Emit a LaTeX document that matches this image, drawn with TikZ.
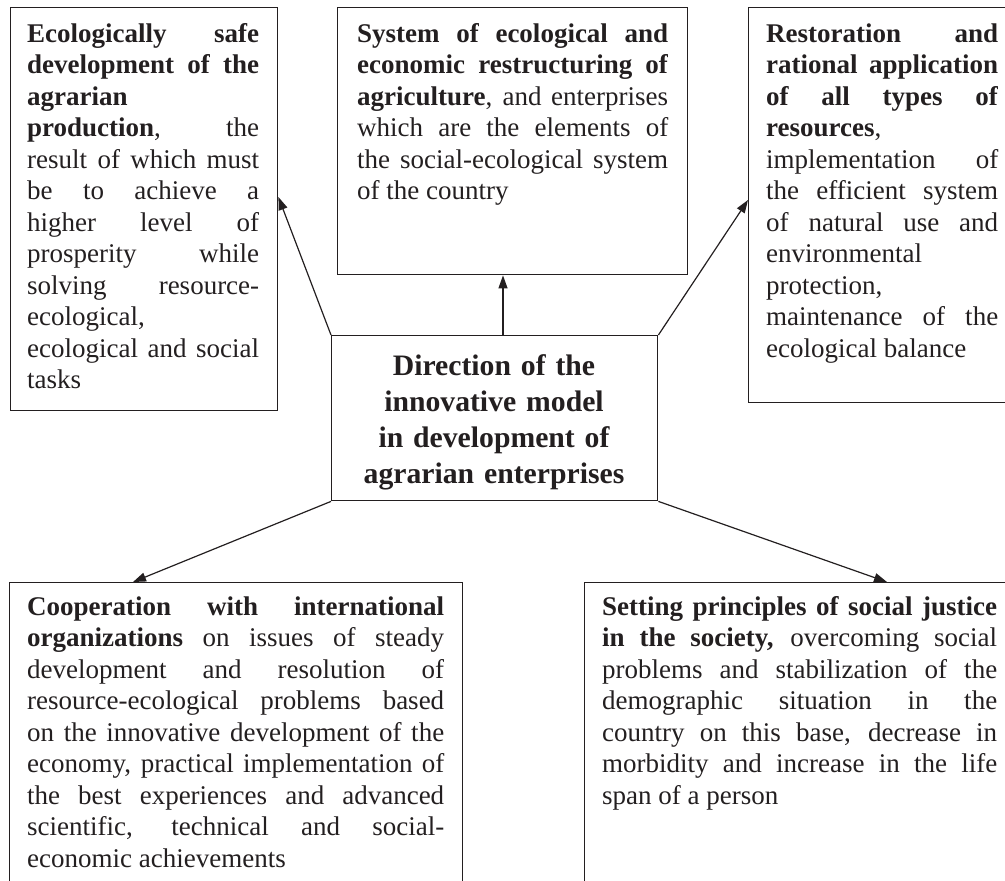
\documentclass[tikz,border=0pt]{standalone}
\usepackage{fontspec}
\setmainfont{Liberation Serif}
\usetikzlibrary{arrows.meta}
\definecolor{ink}{HTML}{231F20}
\newcommand\jbox[2]{\parbox[t]{#1pt}{\tolerance=10000\relax\hbadness=10000\relax\hyphenpenalty=10000\relax #2}}
\tikzset{
  box/.style={draw=ink, line width=1.4pt, rectangle, inner sep=0pt, anchor=north west},
  txt/.style={inner sep=0pt, anchor=base west, text=ink,
    font=\fontsize{27}{31.5}\selectfont},
  ctxt/.style={inner sep=0pt, text width=#1, align=center, anchor=base, text=ink,
    font=\fontsize{29.7}{36}\selectfont\bfseries},
  arr/.style={draw=ink, line width=1.2pt, -{Triangle[length=13pt,width=9pt]}}
}
\begin{document}
\begin{tikzpicture}[x=1pt,y=-1pt]
\useasboundingbox (0,0) rectangle (1005,881);
\clip (0,0) rectangle (1005,881);
% boxes
\node[box, minimum width=267, minimum height=403] (b1) at (10,7) {};
\node[box, minimum width=350, minimum height=267] (b2) at (337,7) {};
\node[box, minimum width=300, minimum height=395] (b3) at (748,7) {};
\node[box, minimum width=326, minimum height=165] (c) at (331,335) {};
\node[box, minimum width=453, minimum height=400] (bl) at (9,582) {};
\node[box, minimum width=500, minimum height=400] (br) at (584,582) {};
% texts
\node[txt] (t1) at (27,42) {\jbox{232}{\textbf{Ecologically safe}\linebreak
\textbf{development of the}\linebreak
\textbf{agrarian}\\
\textbf{production}, the\linebreak
result of which must\linebreak
be to achieve a\linebreak
higher level of\linebreak
prosperity while\linebreak
solving resource-\linebreak
ecological,\\
ecological and social\linebreak
tasks}};
\node[txt] (t2) at (357,42) {\jbox{311}{\textbf{System of ecological and}\linebreak
\textbf{economic restructuring of}\linebreak
\textbf{agriculture}, and enterprises\linebreak
which are the elements of\linebreak
the social-ecological system\linebreak
of the country}};
\node[txt] (t3) at (766,42) {\jbox{232}{\textbf{Restoration and}\linebreak
\textbf{rational application}\linebreak
\textbf{of all types of}\linebreak
\textbf{resources},\\
implementation of\linebreak
the efficient system\linebreak
of natural use and\linebreak
environmental\\
protection,\\
maintenance of the\linebreak
ecological balance}};
\node[ctxt=326] (tc) at (494,375) {Direction of the\\innovative model\\in development of\\agrarian enterprises};
\node[txt] (t4) at (27,615) {\jbox{417}{\textbf{Cooperation with international}\linebreak
\textbf{organizations} on issues of steady\linebreak
development and resolution of\linebreak
resource-ecological problems based\linebreak
on the innovative development of the\linebreak
economy, practical implementation of\linebreak
the best experiences and advanced\linebreak
scientific, technical and social-\linebreak
economic achievements}};
\node[txt] (t5) at (602,615) {\jbox{395}{\textbf{Setting principles of social justice}\linebreak
\textbf{in the society,} overcoming social\linebreak
problems and stabilization of the\linebreak
demographic situation in the\linebreak
country on this base, decrease in\linebreak
morbidity and increase in the life\linebreak
span of a person}};
% connectors
\draw[arr] (c.north west) -- (b1.east |- 0,197);
\draw[arr] (c.north -| 503,0) -- (b2.south -| 503,0);
\draw[arr] (c.north east) -- (b3.west |- 0,200);
\draw[arr] (c.south west) -- (bl.north -| 133,0);
\draw[arr] (c.south east) -- (br.north -| 887,0);
\end{tikzpicture}
\end{document}
